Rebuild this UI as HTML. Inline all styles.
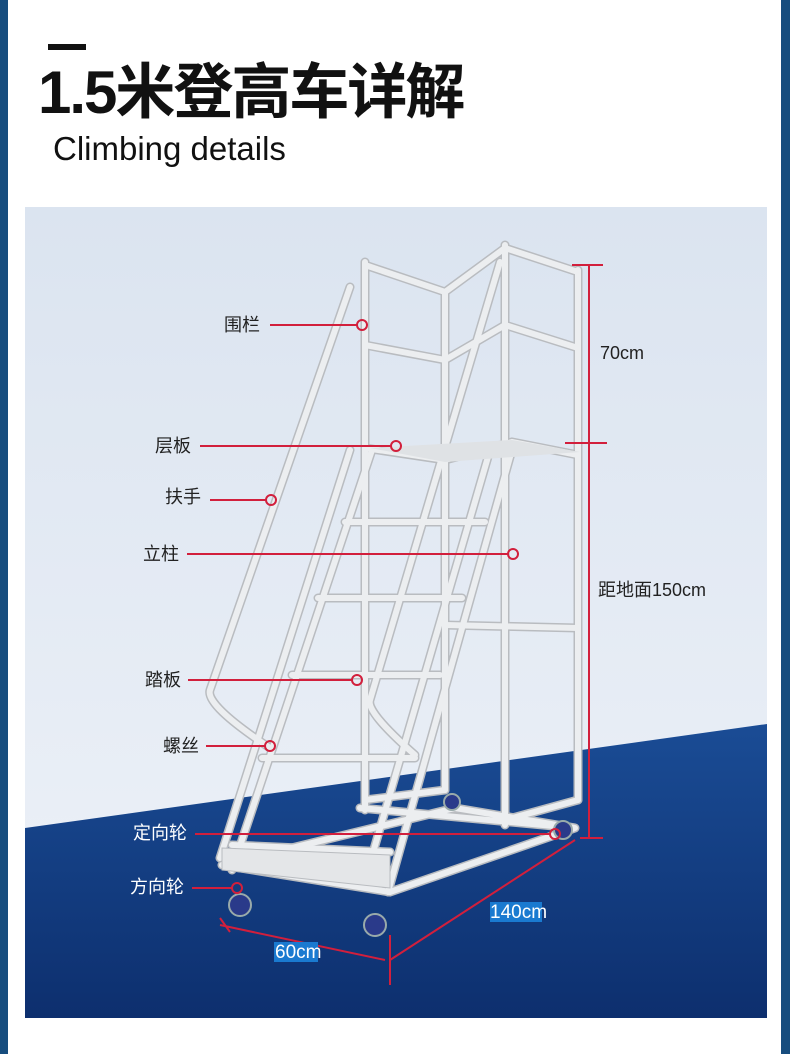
<!DOCTYPE html>
<html><head><meta charset="utf-8"><style>
body{margin:0;width:790px;height:1054px;background:#fff;position:relative;overflow:hidden;font-family:"Liberation Sans","Noto Sans CJK SC",sans-serif}
.bl{position:absolute;top:0;bottom:0;width:8px;background:#174d7e}
</style></head><body>
<div class="bl" style="left:0"></div><div class="bl" style="right:0;width:9px"></div>
<div style="position:absolute;left:48px;top:44px;width:38px;height:6px;background:#111"></div>
<div style="position:absolute;left:38px;top:56px;font-size:60px;line-height:74px;color:#111;font-weight:bold;letter-spacing:-2px;white-space:nowrap">1.5米登高车详解</div>
<div style="position:absolute;left:53px;top:129px;font-size:33px;line-height:40px;color:#111;white-space:nowrap">Climbing details</div>
<svg style="position:absolute;left:0;top:0" width="790" height="1054" viewBox="0 0 790 1054">
<defs>
<linearGradient id="sky" x1="0" y1="0" x2="0" y2="1"><stop offset="0" stop-color="#dbe4f0"/><stop offset="1" stop-color="#eef2f8"/></linearGradient>
<linearGradient id="fl" x1="0" y1="0" x2="0" y2="1"><stop offset="0" stop-color="#1a4c95"/><stop offset="1" stop-color="#0d2f6e"/></linearGradient>
</defs>
<rect x="25" y="207" width="742" height="811" fill="url(#sky)"/>
<polygon points="25,828 767,724 767,1018 25,1018" fill="url(#fl)"/>
<g stroke="#b9bcc0" stroke-width="9" stroke-linecap="round" fill="none">
<path d="M365,262 L365,810 M445,292 L445,790 M505,245 L505,825 M578,270 L578,800"/>
<path d="M365,265 L445,292 L505,248 L578,272 M365,345 L445,360 L505,325 L578,348 M365,448 L445,460 L512,442 L578,455 M445,625 L578,628 M365,800 L445,790 M505,820 L578,800"/>
<path d="M350,287 L210,690 Q205,705 270,748 M500,262 L370,700 Q366,712 415,755"/>
<path d="M372,450 L232,870 M512,450 L388,892 M350,450 L220,858 M490,450 L365,880"/>
<path d="M345,522 L485,522 M318,598 L462,598 M292,675 L440,675 M262,758 L415,758 M232,845 L390,852"/>
<path d="M222,865 L390,892 L575,828 L455,808 L222,865 M360,808 L575,828"/>
</g>
<g stroke="#eceef0" stroke-width="6" stroke-linecap="round" fill="none">
<path d="M365,262 L365,810 M445,292 L445,790 M505,245 L505,825 M578,270 L578,800"/>
<path d="M365,265 L445,292 L505,248 L578,272 M365,345 L445,360 L505,325 L578,348 M365,448 L445,460 L512,442 L578,455 M445,625 L578,628 M365,800 L445,790 M505,820 L578,800"/>
<path d="M350,287 L210,690 Q205,705 270,748 M500,262 L370,700 Q366,712 415,755"/>
<path d="M372,450 L232,870 M512,450 L388,892 M350,450 L220,858 M490,450 L365,880"/>
<path d="M345,522 L485,522 M318,598 L462,598 M292,675 L440,675 M262,758 L415,758 M232,845 L390,852"/>
<path d="M222,865 L390,892 L575,828 L455,808 L222,865 M360,808 L575,828"/>
</g>
<polygon points="222,848 390,855 390,888 222,870" fill="#e4e6e8" stroke="#b9bcc0"/>
<polygon points="370,448 512,440 580,452 445,462" fill="#dfe2e5"/>
<g fill="#2a3a8a" stroke="#9aa" stroke-width="2"><circle cx="240" cy="905" r="11"/><circle cx="375" cy="925" r="11"/><circle cx="452" cy="802" r="8"/><circle cx="563" cy="830" r="9"/></g>
<g stroke="#d21f3c" stroke-width="2" fill="none">
<path d="M270,325 H357 M200,446 H391 M210,500 H266 M187,554 H508 M188,680 H352 M206,746 H265 M195,834 H550 M192,888 H232"/>
<circle cx="362" cy="325" r="5"/><circle cx="396" cy="446" r="5"/><circle cx="271" cy="500" r="5"/><circle cx="513" cy="554" r="5"/><circle cx="357" cy="680" r="5"/><circle cx="270" cy="746" r="5"/><circle cx="555" cy="834" r="5"/><circle cx="237" cy="888" r="5"/>
<path d="M589,265 V838 M572,265 H603 M565,443 H607 M580,838 H603 M390,935 V985 M390,960 L575,840 M220,925 L385,960 M220,918 L230,932"/>
</g>
<rect x="490" y="902" width="52" height="20" fill="#1a7ad0"/>
<rect x="274" y="942" width="44" height="20" fill="#1a7ad0"/>
<g font-size="18" fill="#222" font-family="Liberation Sans, Noto Sans CJK SC, sans-serif">
<text x="224" y="331">围栏</text><text x="155" y="452">层板</text><text x="165" y="503">扶手</text><text x="143" y="560">立柱</text><text x="145" y="686">踏板</text><text x="163" y="752">螺丝</text>
<text x="133" y="839" fill="#fff">定向轮</text><text x="130" y="893" fill="#fff">方向轮</text>
<text x="600" y="359">70cm</text><text x="598" y="596">距地面150cm</text>
<text x="490" y="918" fill="#fff" font-size="19">140cm</text><text x="275" y="958" fill="#fff" font-size="19">60cm</text>
</g>
</svg>
</body></html>
